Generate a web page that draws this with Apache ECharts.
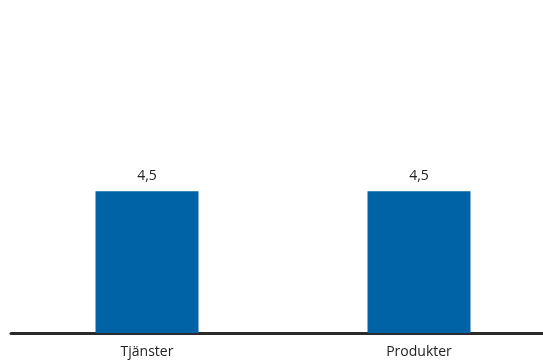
<!DOCTYPE html>
<html>
<head>
<meta charset="utf-8">
<script src="https://cdn.jsdelivr.net/npm/echarts@6/dist/echarts.min.js"></script>
<style>
  html, body { margin: 0; padding: 0; background: #fff; overflow: hidden; }
  #chart { width: 555px; height: 361px; }
</style>
</head>
<body>
<div id="chart"></div>
<script>
const categories = ['Tjänster', 'Produkter'];
const values = [4.5, 4.5];
const valueLabels = ['4,5', '4,5'];

// the baseline runs off the right edge in the original, so the canvas is a little wider than the window
const chart = echarts.init(document.getElementById('chart'));
chart.setOption({
  animation: false,
  grid: { left: 11, right: 0, top: 18, bottom: 28 },
  xAxis: {
    type: 'category',
    data: categories,
    axisTick: { show: false },
    axisLine: { lineStyle: { color: '#2b2b2b', width: 3 } },
    axisLabel: {
      color: '#222',
      fontSize: 14,
      fontFamily: 'Open Sans',
      margin: 12
    }
  },
  yAxis: {
    type: 'value',
    min: 0,
    max: 10,
    show: false,
    splitLine: { show: false }
  },
  series: [{
    type: 'bar',
    data: values,
    barWidth: 103,
    itemStyle: { color: '#0063a5' },
    label: {
      show: true,
      position: 'top',
      distance: 8,
      color: '#222',
      fontSize: 14,
      fontFamily: 'Open Sans',
      formatter: p => valueLabels[p.dataIndex]
    }
  }]
});
</script>
</body>
</html>
